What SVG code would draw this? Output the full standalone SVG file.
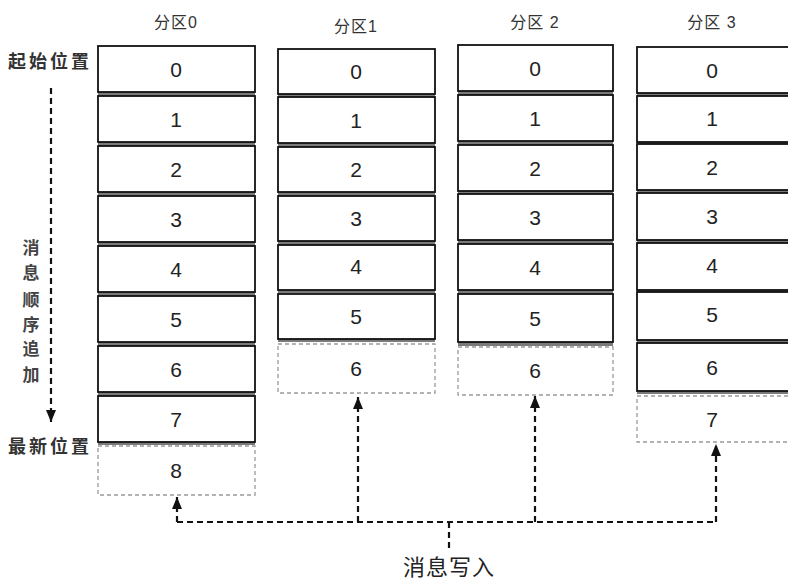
<svg xmlns="http://www.w3.org/2000/svg" width="788" height="581" viewBox="0 0 788 581">
<defs>
<style>
.cell{fill:#fff;stroke:#111;stroke-width:1.8}
.sh{fill:#7a7a7a}
.pend{fill:#fff;stroke:#9a9a9a;stroke-width:1.3;stroke-dasharray:4 3}
.num{font-family:"Liberation Sans",Arial,sans-serif;font-size:21px;fill:#222;text-anchor:middle;dominant-baseline:central}
.hd{font-family:"Liberation Sans","Noto Sans CJK SC",sans-serif;font-size:16px;fill:#333;text-anchor:middle;dominant-baseline:central;letter-spacing:1px}
.lbl{font-family:"Liberation Sans","Noto Sans CJK SC",sans-serif;font-size:18px;font-weight:bold;fill:#333;letter-spacing:3px}
.vt{font-family:"Liberation Sans","Noto Sans CJK SC",sans-serif;font-size:17px;font-weight:bold;fill:#444;text-anchor:middle;dominant-baseline:central}
.big{font-family:"Liberation Sans","Noto Sans CJK SC",sans-serif;font-size:22px;fill:#222;text-anchor:middle;dominant-baseline:central;letter-spacing:1px}
.dl{fill:none;stroke:#111;stroke-width:2.2;stroke-dasharray:6 4}
</style>
<marker id="ah" viewBox="0 0 12 10" refX="12" refY="5" markerWidth="12" markerHeight="10" markerUnits="userSpaceOnUse" orient="auto">
<path d="M0,0 L12,5 L0,10 Z" fill="#111"/>
</marker>
</defs>
<rect width="788" height="581" fill="#fff"/>

<g id="labels">
<text class="lbl" x="8" y="68">起始位置</text>
<text class="lbl" x="8" y="453">最新位置</text>
<text class="vt" x="31" y="248">消</text>
<text class="vt" x="31" y="273">息</text>
<text class="vt" x="31" y="300">顺</text>
<text class="vt" x="31" y="325">序</text>
<text class="vt" x="31" y="349">追</text>
<text class="vt" x="31" y="375">加</text>
<line class="dl" x1="51" y1="88" x2="51" y2="422" stroke-dasharray="4 3" stroke-width="1.6" marker-end="url(#ah)"/>
</g>

<g id="partition0">
<text class="hd" x="176" y="22">分区0</text>
<rect class="sh" x="98" y="89" width="157" height="8"/>
<rect class="sh" x="98" y="139" width="157" height="8"/>
<rect class="sh" x="98" y="189" width="157" height="8"/>
<rect class="sh" x="98" y="239" width="157" height="8"/>
<rect class="sh" x="98" y="289" width="157" height="8"/>
<rect class="sh" x="98" y="339" width="157" height="8"/>
<rect class="sh" x="98" y="389" width="157" height="8"/>
<rect class="sh" x="98" y="439" width="157" height="6"/>
<rect class="cell" x="98" y="46" width="157" height="46"/>
<rect class="cell" x="98" y="96" width="157" height="46"/>
<rect class="cell" x="98" y="146" width="157" height="46"/>
<rect class="cell" x="98" y="196" width="157" height="46"/>
<rect class="cell" x="98" y="246" width="157" height="46"/>
<rect class="cell" x="98" y="296" width="157" height="46"/>
<rect class="cell" x="98" y="346" width="157" height="46"/>
<rect class="cell" x="98" y="396" width="157" height="46"/>
<rect class="pend" x="98" y="446" width="157" height="49"/>
<text class="num" x="176" y="69">0</text>
<text class="num" x="176" y="119">1</text>
<text class="num" x="176" y="169">2</text>
<text class="num" x="176" y="219">3</text>
<text class="num" x="176" y="269">4</text>
<text class="num" x="176" y="319">5</text>
<text class="num" x="176" y="369">6</text>
<text class="num" x="176" y="419">7</text>
<text class="num" x="176" y="470">8</text>
</g>

<g id="partition1">
<text class="hd" x="356" y="26">分区1</text>
<rect class="sh" x="278" y="91" width="157" height="8"/>
<rect class="sh" x="278" y="140" width="157" height="8"/>
<rect class="sh" x="278" y="188" width="157" height="8"/>
<rect class="sh" x="278" y="237" width="157" height="8"/>
<rect class="sh" x="278" y="285" width="157" height="8"/>
<rect class="sh" x="278" y="336" width="157" height="6"/>
<rect class="cell" x="278" y="49" width="157" height="45"/>
<rect class="cell" x="278" y="97" width="157" height="46"/>
<rect class="cell" x="278" y="147" width="157" height="45"/>
<rect class="cell" x="278" y="196" width="157" height="45"/>
<rect class="cell" x="278" y="245" width="157" height="45"/>
<rect class="cell" x="278" y="294" width="157" height="45"/>
<rect class="pend" x="278" y="344" width="157" height="49"/>
<text class="num" x="356" y="71">0</text>
<text class="num" x="356" y="120">1</text>
<text class="num" x="356" y="169">2</text>
<text class="num" x="356" y="218">3</text>
<text class="num" x="356" y="266">4</text>
<text class="num" x="356" y="316">5</text>
<text class="num" x="356" y="368">6</text>
</g>

<g id="partition2">
<text class="hd" x="535" y="22">分区 2</text>
<rect class="sh" x="458" y="89" width="155" height="8"/>
<rect class="sh" x="458" y="139" width="155" height="8"/>
<rect class="sh" x="458" y="188" width="155" height="8"/>
<rect class="sh" x="458" y="238" width="155" height="8"/>
<rect class="sh" x="458" y="288" width="155" height="8"/>
<rect class="sh" x="458" y="340" width="155" height="6"/>
<rect class="cell" x="458" y="45" width="155" height="46"/>
<rect class="cell" x="458" y="95" width="155" height="46"/>
<rect class="cell" x="458" y="145" width="155" height="46"/>
<rect class="cell" x="458" y="194" width="155" height="46"/>
<rect class="cell" x="458" y="244" width="155" height="46"/>
<rect class="cell" x="458" y="294" width="155" height="48"/>
<rect class="pend" x="458" y="347" width="155" height="48"/>
<text class="num" x="535" y="68">0</text>
<text class="num" x="535" y="118">1</text>
<text class="num" x="535" y="168">2</text>
<text class="num" x="535" y="217">3</text>
<text class="num" x="535" y="267">4</text>
<text class="num" x="535" y="318">5</text>
<text class="num" x="535" y="370">6</text>
</g>

<g id="partition3">
<text class="hd" x="712" y="22">分区 3</text>
<rect class="sh" x="637" y="90" width="157" height="8"/>
<rect class="sh" x="637" y="139" width="157" height="8"/>
<rect class="sh" x="637" y="188" width="157" height="8"/>
<rect class="sh" x="637" y="237" width="157" height="8"/>
<rect class="sh" x="637" y="286" width="157" height="8"/>
<rect class="sh" x="637" y="337" width="157" height="8"/>
<rect class="sh" x="637" y="388" width="157" height="6"/>
<rect class="cell" x="637" y="47" width="157" height="46"/>
<rect class="cell" x="637" y="96" width="157" height="46"/>
<rect class="cell" x="637" y="144" width="157" height="46"/>
<rect class="cell" x="637" y="193" width="157" height="47"/>
<rect class="cell" x="637" y="243" width="157" height="47"/>
<rect class="cell" x="637" y="292" width="157" height="48"/>
<rect class="cell" x="637" y="343" width="157" height="48"/>
<rect class="pend" x="637" y="396" width="157" height="46"/>
<text class="num" x="712" y="70">0</text>
<text class="num" x="712" y="118">1</text>
<text class="num" x="712" y="167">2</text>
<text class="num" x="712" y="216">3</text>
<text class="num" x="712" y="265">4</text>
<text class="num" x="712" y="314">5</text>
<text class="num" x="712" y="367">6</text>
<text class="num" x="712" y="419">7</text>
</g>

<g id="connectors">
<path class="dl" d="M177,522 L716,522"/>
<path class="dl" d="M449,522 L449,548"/>
<path class="dl" d="M177,522 L177,497" marker-end="url(#ah)"/>
<path class="dl" d="M358,522 L358,397" marker-end="url(#ah)"/>
<path class="dl" d="M535,522 L535,396" marker-end="url(#ah)"/>
<path class="dl" d="M716,522 L716,444" marker-end="url(#ah)"/>
</g>

<g id="writer">
<text class="big" x="449" y="567">消息写入</text>
</g>
</svg>
